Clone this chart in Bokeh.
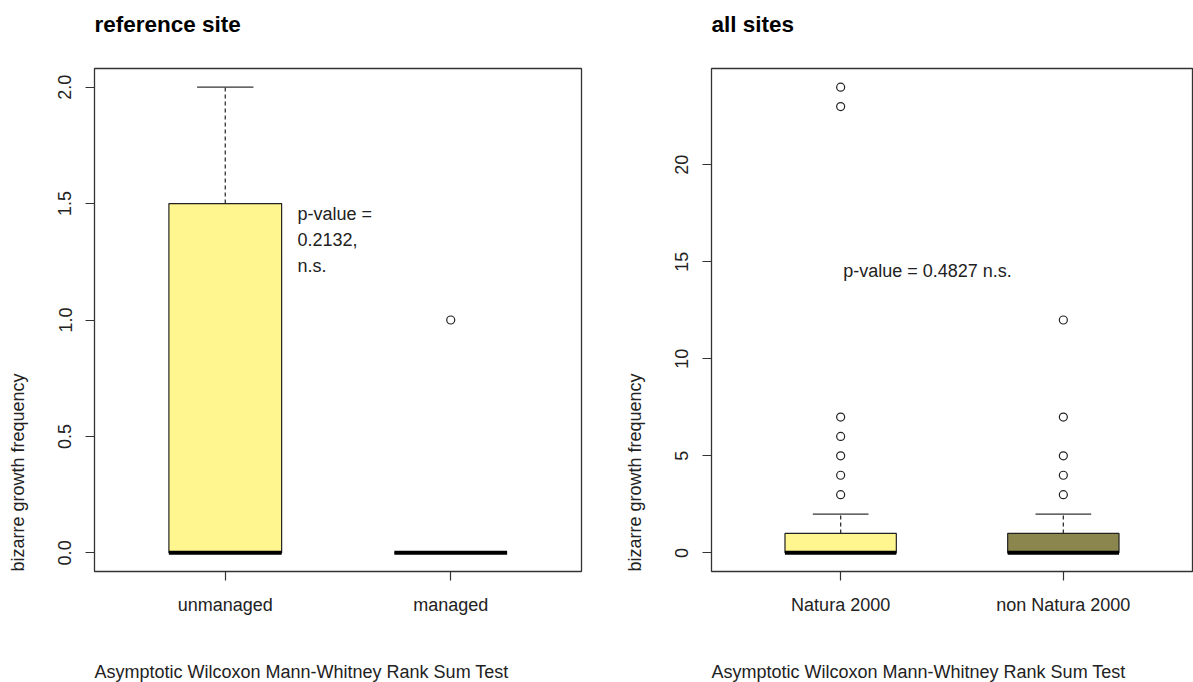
from bokeh.plotting import figure
from bokeh.layouts import row
from bokeh.models import (ColumnDataSource, FixedTicker, NumeralTickFormatter, Range1d,
                          Title, Label)
from bokeh.embed import file_html
from bokeh.resources import INLINE

# ---------------- data ----------------
left_title = "reference site"
left_categories = ["unmanaged", "managed"]
left_lower = [0, 0]
left_q1 = [0, 0]
left_median = [0, 0]
left_q3 = [1.5, 0]
left_upper = [2, 0]
left_outlier_group = [2]
left_outlier_value = [1]
left_colors = ["#FFF68F", "#FFF68F"]
left_ticks = [0, 0.5, 1.0, 1.5, 2.0]
left_ptext = "p-value =\n0.2132,\nn.s."

right_title = "all sites"
right_categories = ["Natura 2000", "non Natura 2000"]
right_lower = [0, 0]
right_q1 = [0, 0]
right_median = [0, 0]
right_q3 = [1, 1]
right_upper = [2, 2]
right_outlier_group = [1, 1, 1, 1, 1, 1, 1, 2, 2, 2, 2, 2]
right_outlier_value = [3, 4, 5, 6, 7, 23, 24, 3, 4, 5, 7, 12]
right_colors = ["#FFF68F", "#8B864E"]
right_ticks = [0, 5, 10, 15, 20]
right_ptext = "p-value = 0.4827 n.s."

y_label = "bizarre growth frequency"
sub_label = "Asymptotic Wilcoxon Mann-Whitney Rank Sum Test"

FONT = "Liberation Sans"
HEIGHT = 682
TOP = 68
BOTTOM = 111
X0, X1 = 0.42, 2.58


def spacer(k):
    # an empty-looking side-panel item used only to push the next title outward
    return Title(text=" ", text_font_size="1px", standoff=k, text_color="white")


def make_panel(title, cats, lower, q1, med, q3, upper, og, ov, colors, ticks,
               ymin, ymax, fmt, width, bl, br, ptext, px, py, palign, pbase):
    p = figure(width=width, height=HEIGHT, output_backend="svg", toolbar_location=None,
               x_range=Range1d(X0, X1), y_range=Range1d(ymin, ymax),
               min_border_left=bl, min_border_right=br, min_border_top=TOP,
               min_border_bottom=BOTTOM, title=None)
    p.xgrid.visible = False
    p.ygrid.visible = False
    p.outline_line_color = "#333333"
    p.outline_line_width = 1.3
    p.background_fill_color = "white"
    p.border_fill_color = "white"

    pos = [i + 1 for i in range(len(cats))]
    src = ColumnDataSource(dict(
        x=pos, left=[v - 0.25 for v in pos], right=[v + 0.25 for v in pos],
        cl=[v - 0.125 for v in pos], cr=[v + 0.125 for v in pos],
        lower=lower, q1=q1, med=med, q3=q3, upper=upper, color=colors))

    # whiskers
    p.segment(x0="x", y0="q3", x1="x", y1="upper", source=src, line_color="#333333",
              line_width=1.3, line_dash="4 3")
    p.segment(x0="x", y0="lower", x1="x", y1="q1", source=src, line_color="#333333",
              line_width=1.3, line_dash="4 3")
    p.segment(x0="cl", y0="upper", x1="cr", y1="upper", source=src, line_color="#333333",
              line_width=1.3)
    p.segment(x0="cl", y0="lower", x1="cr", y1="lower", source=src, line_color="#333333",
              line_width=1.3)
    # boxes
    p.quad(left="left", right="right", bottom="q1", top="q3", source=src,
           fill_color="color", line_color="#222222", line_width=1.2)
    # medians
    p.segment(x0="left", y0="med", x1="right", y1="med", source=src, line_color="black",
              line_width=4)
    # outliers
    p.scatter(x=og, y=ov, size=8, marker="circle", fill_color=None,
              line_color="#222222", line_width=1.2)

    p.xaxis.ticker = FixedTicker(ticks=pos)
    p.xaxis.major_label_overrides = {v: c for v, c in zip(pos, cats)}
    p.yaxis.ticker = FixedTicker(ticks=ticks)
    if fmt:
        p.yaxis.formatter = NumeralTickFormatter(format=fmt)
    for ax in (p.xaxis[0], p.yaxis[0]):
        ax.axis_line_color = None
        ax.major_tick_line_color = "#333333"
        ax.major_tick_line_width = 1.2
        ax.major_tick_out = 9
        ax.major_tick_in = 0
        ax.minor_tick_line_color = None
        ax.major_label_text_font = FONT
        ax.major_label_text_font_size = "18px"
        ax.major_label_text_color = "#222222"
        ax.major_label_standoff = 14
    p.yaxis.major_label_orientation = "vertical"

    # top title
    p.add_layout(spacer(29), "above")
    p.add_layout(Title(text=title, align="left", text_font=FONT, text_font_size="22.5px",
                       text_font_style="bold", text_color="black", standoff=0), "above")
    # y label (bottom-aligned with the frame)
    p.add_layout(spacer(25), "left")
    p.add_layout(Title(text=y_label, align="left", text_font=FONT, text_font_size="18px",
                       text_font_style="normal", text_color="#222222", standoff=0), "left")
    # caption below, left-aligned with the frame
    p.add_layout(spacer(39), "below")
    p.add_layout(Title(text=sub_label, align="left", text_font=FONT, text_font_size="18px",
                       text_font_style="normal", text_color="#222222", standoff=0), "below")

    p.add_layout(Label(x=px, y=py, text=ptext, text_font=FONT, text_font_size="18px",
                       text_color="#222222", text_align=palign, text_baseline=pbase,
                       text_line_height=1.3))
    return p


p1 = make_panel(left_title, left_categories, left_lower, left_q1, left_median, left_q3,
                left_upper, left_outlier_group, left_outlier_value, left_colors,
                left_ticks, -0.08, 2.08, "0.0", 620, 94, 39,
                left_ptext, 1.32, 1.5, "left", "top")
p2 = make_panel(right_title, right_categories, right_lower, right_q1, right_median,
                right_q3, right_upper, right_outlier_group, right_outlier_value,
                right_colors, right_ticks, -0.96, 24.96, None, 573, 91, 1,
                right_ptext, 1.39, 14.5, "center", "middle")

layout = row(p1, p2)
open("out.html", "w").write(file_html(layout, INLINE))
